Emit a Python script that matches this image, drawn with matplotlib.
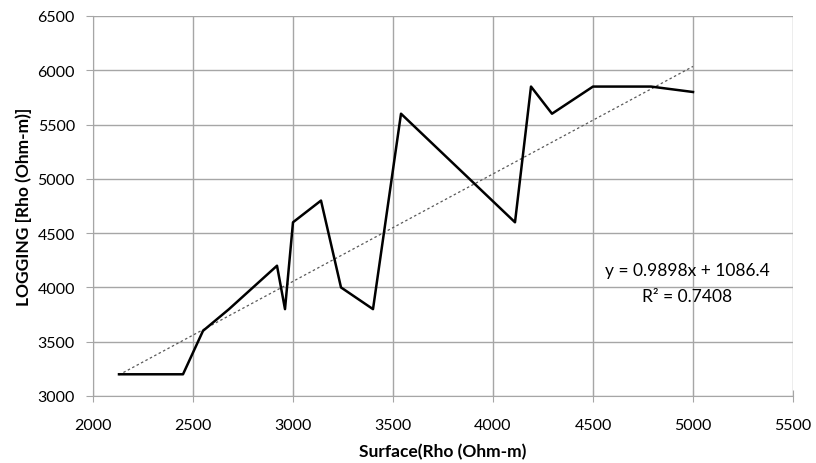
import numpy as np
import matplotlib.pyplot as plt

plt.rcParams['font.family'] = ['Lato', 'DejaVu Sans']

# dados
surface = [2130, 2450, 2550, 2680, 2920, 2960, 3000, 3140, 3240, 3400,
           3540, 4110, 4190, 4295, 4500, 4790, 5000]
logging = [3200, 3200, 3600, 3800, 4200, 3800, 4600, 4800, 4000, 3800,
           5600, 4600, 5850, 5600, 5850, 5850, 5800]

slope = 0.9898
intercept = 1086.4
r2 = 0.7408

xticks = [2000, 2500, 3000, 3500, 4000, 4500, 5000, 5500]
yticks = [3000, 3500, 4000, 4500, 5000, 5500, 6000, 6500]

fig = plt.figure(figsize=(8.16, 4.64), dpi=100)
ax = fig.add_axes([93/816, 1 - 397/464, 700/816, 380/464])

grid_cor = '#a6a6a6'
ax.set_xlim(2000, 5500)
ax.set_ylim(3000, 6500)
ax.set_xticks(xticks)
ax.set_yticks(yticks)
ax.grid(True, color=grid_cor, linewidth=1)
ax.set_axisbelow(True)

for lado in ['top', 'right']:
    ax.spines[lado].set_visible(False)
for lado in ['left', 'bottom']:
    ax.spines[lado].set_color(grid_cor)

ax.tick_params(axis='x', direction='inout', length=8, color=grid_cor, labelsize=11.5, pad=12)
ax.tick_params(axis='y', direction='out', length=5, color=grid_cor, labelsize=11.5, pad=8)

# linha dos dados
ax.plot(surface, logging, color='black', linewidth=1.8, zorder=3)

# linha de tendencia
xt = np.array([min(surface), max(surface)])
ax.plot(xt, slope * xt + intercept, color='#595959', linestyle=(0, (2, 2)),
        linewidth=0.9, zorder=2)

ax.text(4970, 4160, 'y = 0.9898x + 1086.4', ha='center', va='center', fontsize=12.5)
ax.text(4970, 3925, 'R² = 0.7408', ha='center', va='center', fontsize=12.5)

ax.set_xlabel('Surface(Rho (Ohm-m)', fontsize=12.5, fontweight='bold', labelpad=8)
ax.set_ylabel('LOGGING [Rho (Ohm-m)]', fontsize=12.5, fontweight='bold', labelpad=4)

fig.savefig('out.png', dpi=100)
